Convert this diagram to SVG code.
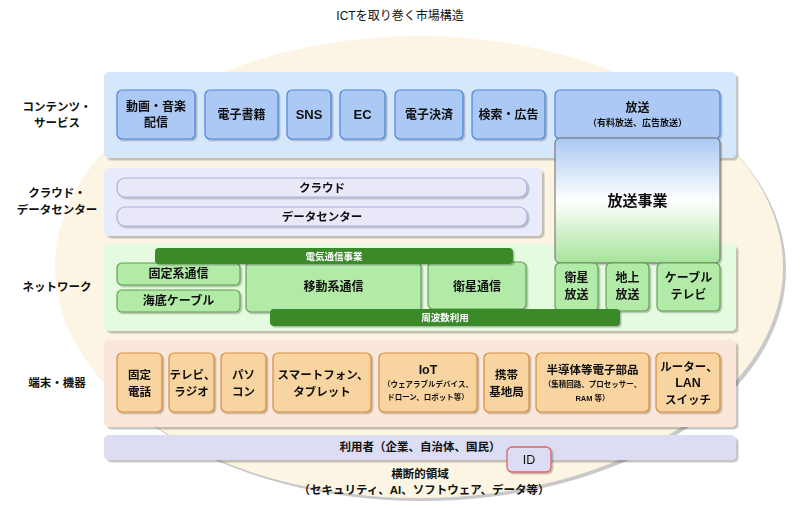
<svg xmlns="http://www.w3.org/2000/svg" width="800" height="508" viewBox="0 0 800 508">
<defs>
<filter id="sh" x="-10%" y="-10%" width="130%" height="140%"><feDropShadow dx="2.5" dy="2.5" stdDeviation="0.7" flood-color="#000" flood-opacity="0.22"/></filter>
<filter id="nsh" x="-10%" y="-10%" width="130%" height="140%"><feDropShadow dx="1.5" dy="1.5" stdDeviation="0.6" flood-color="#000" flood-opacity="0.25"/></filter>
<linearGradient id="bg" x1="0" y1="0" x2="0" y2="1">
<stop offset="0" stop-color="#a9c8f3"/><stop offset="0.5" stop-color="#ffffff"/><stop offset="1" stop-color="#a6e39a"/>
</linearGradient>
<style>
text{font-family:"Liberation Sans","Noto Sans CJK JP",sans-serif;fill:#111;text-anchor:middle;dominant-baseline:central}
.t{font-size:12px;font-weight:bold}
.tt{font-size:11.5px;font-weight:bold}
.lbl{font-size:11.5px;font-weight:bold}
.s{font-size:7.5px;font-weight:bold}
.w{fill:#fff;font-size:9.5px;font-weight:bold}
.bc{fill:#d5e7fb}.bd{fill:#e7ebfb}.bn{fill:#e5fbdf}.bt{fill:#fbe7d9}.bu{fill:#dcdcf3}
.nc{fill:#abc9f4;stroke:#4d84d8;stroke-width:1.2}
.nd{fill:#e8e8f9;stroke:#aeb0da;stroke-width:1.2}
.nn{fill:#b2eba7;stroke:#5c9a4f;stroke-width:1.1}
.nt{fill:#f8d4a1;stroke:#d48d3e;stroke-width:1.2}
.bar{fill:#3b8a2c}
</style>
</defs>
<ellipse cx="422" cy="270" rx="364" ry="231" fill="#c9c9c9"/>
<ellipse cx="419" cy="267" rx="364" ry="231" fill="#fdf5e3"/>
<text x="400" y="16" style="font-size:12px">ICTを取り巻く市場構造</text>

<g id="layer-labels">
<text class="lbl" x="57" y="107">コンテンツ・</text>
<text class="lbl" x="57" y="123">サービス</text>
<text class="lbl" x="57" y="193">クラウド・</text>
<text class="lbl" x="57" y="210">データセンター</text>
<text class="lbl" x="57" y="287">ネットワーク</text>
<text class="lbl" x="57" y="383">端末・機器</text>
</g>

<g id="band-contents"><rect class="bc" x="104" y="72" width="632" height="86" rx="5" filter="url(#sh)"/></g>
<g id="band-cloud"><rect class="bd" x="104" y="168" width="438" height="68" rx="5" filter="url(#sh)"/></g>
<g id="band-network"><rect class="bn" x="104" y="244" width="632" height="87" rx="5" filter="url(#sh)"/></g>
<g id="band-terminal"><rect class="bt" x="104" y="340" width="632" height="87" rx="5" filter="url(#sh)"/></g>
<g id="band-user"><rect class="bu" x="104" y="435" width="632" height="25" rx="5" filter="url(#sh)"/><text x="420" y="447" style="font-size:11.5px;font-weight:bold">利用者（企業、自治体、国民）</text></g>

<g id="n-video" filter="url(#nsh)"><rect class="nc" x="117" y="90" width="78" height="49" rx="5"/><text class="t" x="156" y="107">動画・音楽</text><text class="t" x="156" y="123">配信</text></g>
<g id="n-ebook" filter="url(#nsh)"><rect class="nc" x="205" y="90" width="73" height="49" rx="5"/><text class="t" x="241.5" y="114.5">電子書籍</text></g>
<g id="n-sns" filter="url(#nsh)"><rect class="nc" x="287" y="90" width="44" height="49" rx="5"/><text class="t" x="309" y="114.5" style="font-size:13px">SNS</text></g>
<g id="n-ec" filter="url(#nsh)"><rect class="nc" x="340" y="90" width="45" height="49" rx="5"/><text class="t" x="362.5" y="114.5" style="font-size:13px">EC</text></g>
<g id="n-epay" filter="url(#nsh)"><rect class="nc" x="395" y="90" width="68" height="49" rx="5"/><text class="t" x="429" y="114.5">電子決済</text></g>
<g id="n-search" filter="url(#nsh)"><rect class="nc" x="472" y="90" width="73" height="49" rx="5"/><text class="t" x="508.5" y="114.5">検索・広告</text></g>
<g id="n-broadcast" filter="url(#nsh)"><rect class="nc" x="555" y="90" width="165" height="49" rx="5"/><text class="t" x="637.5" y="108">放送</text><text x="637.5" y="123" style="font-size:9px;font-weight:bold">（有料放送、広告放送）</text></g>
<g id="n-broadcast-biz" filter="url(#nsh)"><rect x="555" y="138" width="165" height="125" rx="5" fill="url(#bg)" stroke="#666" stroke-width="1"/><text x="637.5" y="200" style="font-size:15px;font-weight:bold">放送事業</text></g>

<g id="n-cloud" filter="url(#nsh)"><rect class="nd" x="117" y="178" width="410" height="19" rx="8"/><text class="lbl" x="322" y="187.5">クラウド</text></g>
<g id="n-dc" filter="url(#nsh)"><rect class="nd" x="117" y="207" width="410" height="19" rx="8"/><text class="lbl" x="322" y="216.5">データセンター</text></g>

<g id="n-fixed" filter="url(#nsh)"><rect class="nn" x="117" y="263" width="123" height="22" rx="5"/><text class="t" x="178.5" y="274">固定系通信</text></g>
<g id="n-submarine" filter="url(#nsh)"><rect class="nn" x="117" y="290" width="123" height="22" rx="5"/><text class="t" x="178.5" y="301">海底ケーブル</text></g>
<g id="n-mobile" filter="url(#nsh)"><rect class="nn" x="246" y="262" width="175" height="50" rx="5"/><text class="t" x="333.5" y="287">移動系通信</text></g>
<g id="n-satcom" filter="url(#nsh)"><rect class="nn" x="428" y="262" width="98" height="47" rx="5"/><text class="t" x="477" y="287">衛星通信</text></g>
<g id="n-satbc" filter="url(#nsh)"><rect class="nn" x="555" y="263" width="43" height="48" rx="5"/><text class="t" x="576.5" y="278">衛星</text><text class="t" x="576.5" y="295">放送</text></g>
<g id="n-terr" filter="url(#nsh)"><rect class="nn" x="606" y="263" width="43" height="48" rx="5"/><text class="t" x="627.5" y="278">地上</text><text class="t" x="627.5" y="295">放送</text></g>
<g id="n-catv" filter="url(#nsh)"><rect class="nn" x="657" y="263" width="63" height="48" rx="5"/><text class="t" x="688.5" y="278">ケーブル</text><text class="t" x="688.5" y="295">テレビ</text></g>
<g id="n-telecom-biz" filter="url(#nsh)"><rect class="bar" x="155" y="248" width="358" height="16" rx="4"/><text class="w" x="334" y="256">電気通信事業</text></g>
<g id="n-spectrum" filter="url(#nsh)"><rect class="bar" x="270" y="309" width="350" height="17" rx="4"/><text class="w" x="445" y="317.5">周波数利用</text></g>

<g id="n-phone" filter="url(#nsh)"><rect class="nt" x="117" y="353" width="45" height="59" rx="5"/><text class="tt" x="139.5" y="375">固定</text><text class="tt" x="139.5" y="392">電話</text></g>
<g id="n-tv" filter="url(#nsh)"><rect class="nt" x="169" y="353" width="45" height="59" rx="5"/><text class="tt" x="192.5" y="375">テレビ、</text><text class="tt" x="191.5" y="392">ラジオ</text></g>
<g id="n-pc" filter="url(#nsh)"><rect class="nt" x="221" y="353" width="45" height="59" rx="5"/><text class="tt" x="243.5" y="375">パソ</text><text class="tt" x="243.5" y="392">コン</text></g>
<g id="n-smart" filter="url(#nsh)"><rect class="nt" x="273" y="353" width="98" height="59" rx="5"/><text class="tt" x="323" y="375">スマートフォン、</text><text class="tt" x="322" y="392">タブレット</text></g>
<g id="n-iot" filter="url(#nsh)"><rect class="nt" x="379" y="353" width="98" height="59" rx="5"/><text class="t" x="428" y="370" style="font-size:12.5px">IoT</text><text class="s" x="428" y="384">（ウェアラブルデバイス、</text><text class="s" x="428" y="397">ドローン、ロボット等）</text></g>
<g id="n-base" filter="url(#nsh)"><rect class="nt" x="484" y="353" width="45" height="59" rx="5"/><text class="tt" x="506.5" y="375">携帯</text><text class="tt" x="506.5" y="392">基地局</text></g>
<g id="n-semi" filter="url(#nsh)"><rect class="nt" x="536" y="353" width="113" height="59" rx="5"/><text class="tt" x="592.5" y="370">半導体等電子部品</text><text class="s" x="592.5" y="384">（集積回路、プロセッサー、</text><text class="s" x="592.5" y="398">RAM 等）</text></g>
<g id="n-router" filter="url(#nsh)"><rect class="nt" x="656" y="353" width="64" height="59" rx="5"/><text class="tt" x="689" y="367">ルーター、</text><text class="t" x="688" y="383" style="font-size:12.5px">LAN</text><text class="tt" x="688" y="400">スイッチ</text></g>

<g id="n-id" filter="url(#nsh)"><rect x="507" y="447" width="44" height="25" rx="5" fill="#dcdcf3" stroke="#e06464" stroke-width="1.3"/><text x="529" y="459.5" style="font-size:12.5px">ID</text></g>
<g id="cross-domain">
<text x="420" y="474" style="font-size:11.5px;font-weight:bold">横断的領域</text>
<text x="424" y="490" style="font-size:11.5px;font-weight:bold">（セキュリティ、AI、ソフトウェア、データ等）</text>
</g>
<g id="connectors"/>
</svg>
